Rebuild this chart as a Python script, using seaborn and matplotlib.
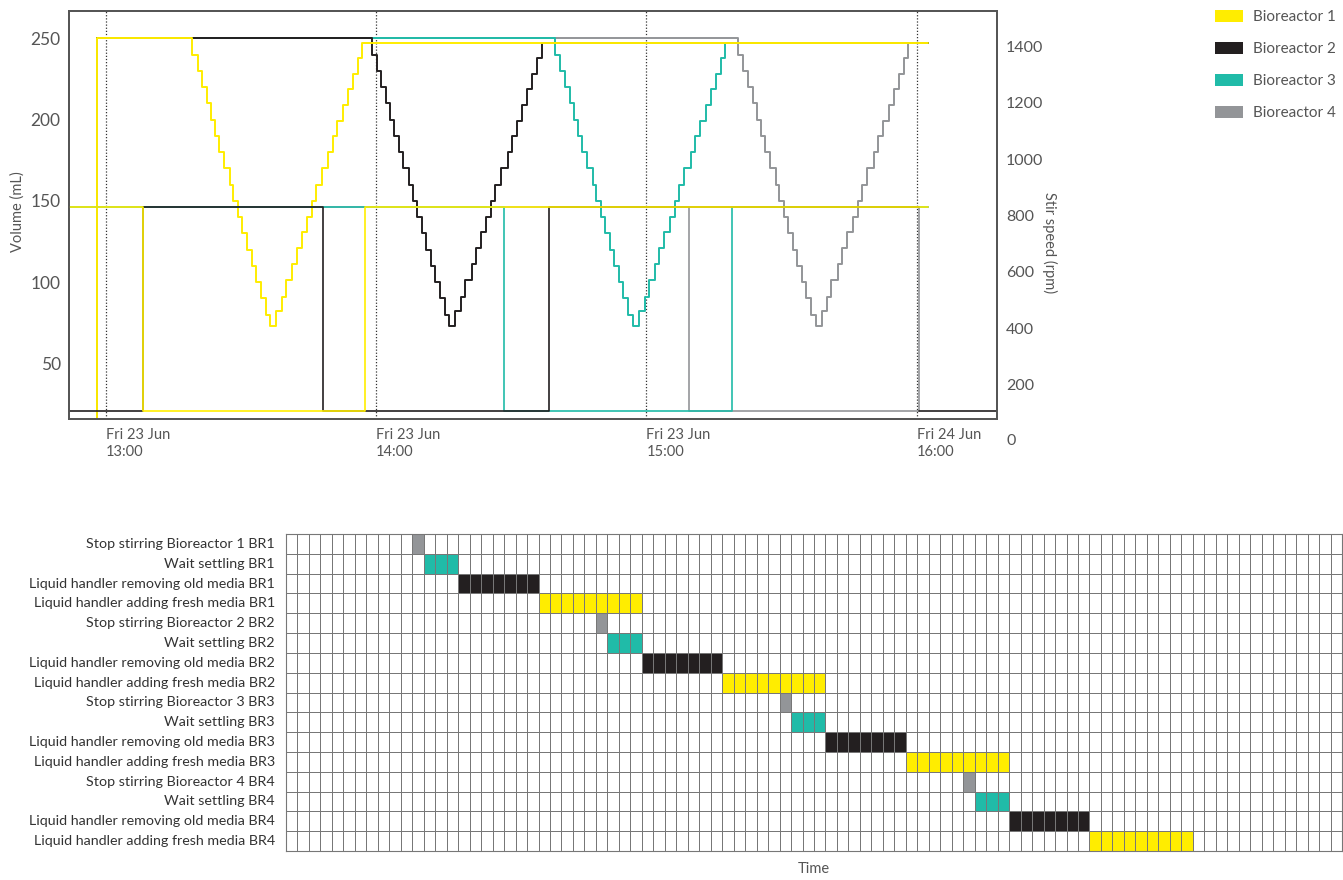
import pandas as pd
import seaborn as sns
import matplotlib.pyplot as plt
import matplotlib.transforms as mtransforms
from matplotlib.colors import ListedColormap
from matplotlib.patches import Patch

# --- data (time in minutes after 13:00) ---
reactors = ['Bioreactor 1', 'Bioreactor 2', 'Bioreactor 3', 'Bioreactor 4']
colours = ['#FFED00', '#231F20', '#20BBA8', '#939598']

# volume staircase of one feed cycle: minutes after the first drop, and level (mL)
cycle_offsets = [0.0, 1.2, 2.2, 3.3, 4.2, 5.1, 6.0, 7.1, 8.4, 9.1, 10.2, 11.1,
                 12.2, 13.2, 14.2, 15.2, 16.3, 17.3, 18.6, 19.9, 20.8, 22.2,
                 23.2, 24.3, 25.5, 26.6, 27.5, 28.7, 30.2, 31.2, 32.2, 33.5,
                 34.6, 35.7, 36.8, 37.8]
cycle_levels = [240, 230, 220, 210, 200, 190, 180, 170, 160, 150, 140, 130,
                120, 110, 100, 90, 80, 73, 82, 91, 101, 111, 121, 131,
                140, 150, 160, 170, 180, 190, 199, 209, 219, 228, 238, 247]
cycle_starts = [19.2, 59.0, 99.7, 140.3]
fill_time = -2.0
fill_volume = 250
run_end = 182.6

# stir speed (rpm) change points
br1_stir_t = [-8.2, 8.3, 57.5, 182.6]
br1_stir = [830, 105, 830, 830]
br2_stir_t = [-8.2, 8.3, 48.2, 98.4, 180.5]
br2_stir = [105, 830, 105, 830, 830]
br2_tail_t = [180.5, 197.9]
br2_tail = [105, 105]
br3_stir_t = [-8.2, 88.4, 139.0, 182.6]
br3_stir = [830, 105, 830, 830]
br4_stir_t = [-8.2, 129.4, 180.5, 182.6]
br4_stir = [830, 105, 830, 830]

hour_ticks = [0, 60, 120, 180]
hour_labels = ['Fri 23 Jun\n13:00', 'Fri 23 Jun\n14:00', 'Fri 23 Jun\n15:00', 'Fri 24 Jun\n16:00']

# schedule grid
tasks = ['Stop stirring Bioreactor 1 BR1', 'Wait settling BR1',
         'Liquid handler removing old media BR1', 'Liquid handler adding fresh media BR1',
         'Stop stirring Bioreactor 2 BR2', 'Wait settling BR2',
         'Liquid handler removing old media BR2', 'Liquid handler adding fresh media BR2',
         'Stop stirring Bioreactor 3 BR3', 'Wait settling BR3',
         'Liquid handler removing old media BR3', 'Liquid handler adding fresh media BR3',
         'Stop stirring Bioreactor 4 BR4', 'Wait settling BR4',
         'Liquid handler removing old media BR4', 'Liquid handler adding fresh media BR4']
task_start = [11, 12, 15, 22, 27, 28, 31, 38, 43, 44, 47, 54, 59, 60, 63, 70]
task_length = [1, 3, 7, 9, 1, 3, 7, 9, 1, 3, 7, 9, 1, 3, 7, 9]
task_kind = [1, 2, 3, 4, 1, 2, 3, 4, 1, 2, 3, 4, 1, 2, 3, 4]
n_slots = 92

# --- tables ---
vol_rows = []
for r, start in zip(reactors, cycle_starts):
    vol_rows.append((r, fill_time, 0))
    vol_rows.append((r, fill_time, fill_volume))
    for o, v in zip(cycle_offsets, cycle_levels):
        vol_rows.append((r, start + o, v))
    vol_rows.append((r, run_end, cycle_levels[-1]))
vol = pd.DataFrame(vol_rows, columns=['reactor', 't', 'volume'])

stir_rows = []
for r, seg, ts, vs in [(reactors[0], 0, br1_stir_t, br1_stir),
                       (reactors[1], 0, br2_stir_t, br2_stir),
                       (reactors[1], 1, br2_tail_t, br2_tail),
                       (reactors[2], 0, br3_stir_t, br3_stir),
                       (reactors[3], 0, br4_stir_t, br4_stir)]:
    for t, v in zip(ts, vs):
        stir_rows.append((r, seg, t, v))
stir = pd.DataFrame(stir_rows, columns=['reactor', 'seg', 't', 'rpm'])

grid = [[0] * n_slots for _ in tasks]
for i, (s, n, k) in enumerate(zip(task_start, task_length, task_kind)):
    for c in range(s, s + n):
        grid[i][c] = k
grid = pd.DataFrame(grid, index=tasks)

# --- figure ---
sns.set_theme(style='white')
plt.rcParams['font.family'] = ['Lato', 'DejaVu Sans']
txt = '#555555'

fig = plt.figure(figsize=(13.43, 8.8), dpi=100)
ax = fig.add_axes([0.05138, 0.5235, 0.6910, 0.46432])
palette = dict(zip(reactors, colours))
order = reactors[::-1]

sns.lineplot(data=vol, x='t', y='volume', hue='reactor', hue_order=order,
             palette=palette, estimator=None, sort=False, drawstyle='steps-post',
             lw=1.4, legend=False, ax=ax)
ax.set_xlim(-8.15, 197.85)
ax.set_ylim(15.5, 267)
ax.set_yticks([50, 100, 150, 200, 250])
ax.set_xticks(hour_ticks)
ax.set_xticklabels(hour_labels, ha='left', linespacing=1.3)
ax.tick_params(axis='x', length=0, pad=6, labelsize=10.5, labelcolor=txt)
ax.tick_params(axis='y', length=0, pad=6, labelsize=12.5, labelcolor=txt)
ax.set_xlabel('')
ax.set_ylabel('')
ax.grid(axis='x', ls=(0, (1, 1.5)), color='#333333', lw=0.9)

ax2 = ax.twinx()
sns.lineplot(data=stir, x='t', y='rpm', hue='reactor', hue_order=order, units='seg',
             palette=palette, estimator=None, sort=False, drawstyle='steps-post',
             lw=1.2, legend=False, ax=ax2)
ax2.set_ylim(77, 1526)
ax2.set_yticks([200, 400, 600, 800, 1000, 1200, 1400])
ax2.tick_params(axis='y', length=0, pad=6.5, labelsize=11.5, labelcolor=txt)
ax2.set_ylabel('')
ax2.grid(False)
tr = mtransforms.blended_transform_factory(ax2.transAxes, ax2.transData)
ax2.text(1.0097, 0, '0', transform=tr, ha='left', va='center', fontsize=11.5,
         color=txt, clip_on=False)

for a in (ax, ax2):
    for sp in a.spines.values():
        sp.set_color('#555555')
        sp.set_linewidth(1.3)

fig.text(18 / 1343, 1 - 212 / 880, 'Volume (mL)', rotation=90, ha='center', va='center',
         fontsize=10.5, color=txt)
fig.text(1050 / 1343, 1 - 243 / 880, 'Stir speed (rpm)', rotation=270, ha='center',
         va='center', fontsize=10.5, color=txt)

handles = [Patch(facecolor=c, edgecolor='none', label=r) for r, c in zip(reactors, colours)]
fig.legend(handles=handles, loc='upper left', bbox_to_anchor=(1215 / 1343, 1 - 10 / 880),
           frameon=False, fontsize=11, handlelength=1.85, handleheight=0.85,
           labelspacing=1.15, handletextpad=0.65, borderpad=0, borderaxespad=0,
           labelcolor=txt)

# schedule grid
gx = fig.add_axes([0.21296, 0.03295, 0.7863, 0.36023])
cmap = ListedColormap(['white', colours[3], colours[2], colours[1], colours[0]])
sns.heatmap(grid, cmap=cmap, vmin=-0.5, vmax=4.5, cbar=False, linewidths=0.6,
            linecolor='#777777', xticklabels=False, yticklabels=tasks, ax=gx)
for sp in gx.spines.values():
    sp.set_visible(True)
    sp.set_color('#777777')
    sp.set_linewidth(0.8)
gx.tick_params(axis='y', length=0, pad=8, labelsize=10.3, labelcolor='#333333', rotation=0)
gx.set_xlabel('Time', fontsize=10.5, color=txt, labelpad=8)
gx.set_ylabel('')

fig.savefig('out.png', dpi=100)
